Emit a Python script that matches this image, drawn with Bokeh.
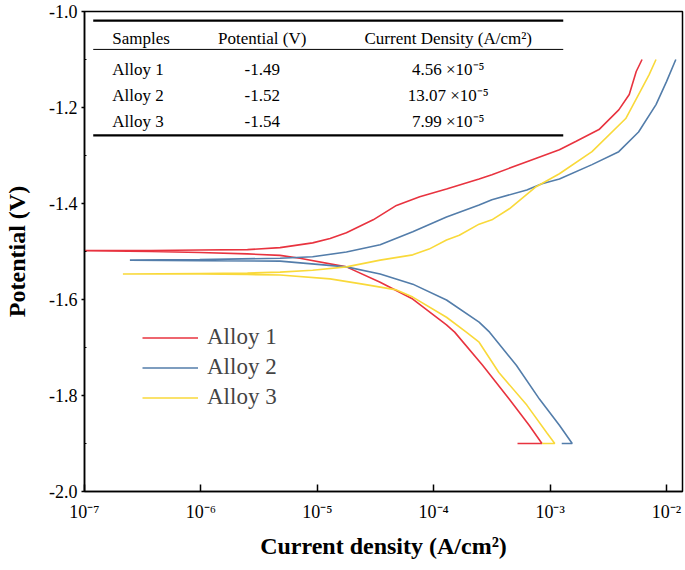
import numpy as np
from bokeh.plotting import figure
from bokeh.models import (FixedTicker, PrintfTickFormatter, CustomJSTickFormatter,
                          Legend, LegendItem, Label, ColumnDataSource)
from bokeh.embed import file_html
from bokeh.resources import INLINE

# ---------------- data (log10 current density, potential V) ----------------
alloy1_cath_log = [-3.28, -3.07, -3.18, -3.35, -3.58, -3.82, -3.89, -4.18, -4.46, -4.75,
                   -5.15, -5.32, -5.60, -6.01, -6.43, -7.05]
alloy1_cath_v = [-1.900, -1.900, -1.862, -1.808, -1.737, -1.668, -1.653, -1.599, -1.564, -1.532,
                 -1.514, -1.508, -1.505, -1.502, -1.500, -1.498]
alloy1_anod_log = [-6.43, -6.01, -5.60, -5.32, -5.04, -4.89, -4.75, -4.52, -4.32, -4.12,
                   -3.89, -3.61, -3.50, -3.20, -2.92, -2.78, -2.58, -2.41, -2.32, -2.26, -2.21]
alloy1_anod_v = [-1.498, -1.497, -1.496, -1.492, -1.482, -1.473, -1.461, -1.434, -1.404, -1.386,
                 -1.370, -1.349, -1.340, -1.313, -1.288, -1.271, -1.246, -1.205, -1.173, -1.125, -1.100]

alloy2_cath_log = [-2.90, -2.81, -2.92, -3.09, -3.29, -3.52, -3.61, -3.89, -4.18, -4.46,
                   -4.75, -5.32, -6.01, -6.61]
alloy2_cath_v = [-1.900, -1.900, -1.862, -1.808, -1.737, -1.668, -1.647, -1.601, -1.568, -1.547,
                 -1.532, -1.520, -1.519, -1.518]
alloy2_anod_log = [-6.01, -5.32, -5.04, -4.75, -4.46, -4.18, -3.89, -3.61, -3.50, -3.20,
                   -3.07, -2.92, -2.64, -2.41, -2.24, -2.09, -2.00, -1.92]
alloy2_anod_v = [-1.517, -1.514, -1.511, -1.501, -1.486, -1.459, -1.428, -1.403, -1.392, -1.372,
                 -1.359, -1.349, -1.319, -1.292, -1.251, -1.194, -1.146, -1.100]

alloy3_cath_log = [-3.07, -2.96, -3.03, -3.20, -3.44, -3.61, -3.72, -3.89, -4.18, -4.32,
                   -4.61, -4.89, -5.32, -5.60, -6.01, -6.67]
alloy3_cath_v = [-1.900, -1.900, -1.877, -1.820, -1.752, -1.689, -1.668, -1.637, -1.595, -1.580,
                 -1.568, -1.557, -1.549, -1.548, -1.547, -1.547]
alloy3_anod_log = [-6.01, -5.60, -5.32, -5.04, -4.75, -4.46, -4.18, -4.04, -3.89, -3.78,
                   -3.61, -3.50, -3.35, -3.12, -2.92, -2.64, -2.35, -2.24, -2.15, -2.09]
alloy3_anod_v = [-1.546, -1.545, -1.543, -1.539, -1.532, -1.518, -1.507, -1.495, -1.476, -1.466,
                 -1.443, -1.434, -1.411, -1.365, -1.338, -1.292, -1.223, -1.173, -1.132, -1.100]

series_names = ["Alloy 1", "Alloy 2", "Alloy 3"]
series_colors = ["#E8333F", "#537DAA", "#F9D93A"]

# table contents
table_header = ["Samples", "Potential (V)", "Current Density (A/cm²)"]
table_samples = ["Alloy 1", "Alloy 2", "Alloy 3"]
table_potential = ["-1.49", "-1.52", "-1.54"]
table_current = ["4.56 ×10⁻⁵", "13.07 ×10⁻⁵", "7.99 ×10⁻⁵"]

# axes
x_decades = [-7, -6, -5, -4, -3, -2]
y_ticks = [-2.0, -1.8, -1.6, -1.4, -1.2, -1.0]
y_minor = [-1.9, -1.7, -1.5, -1.3, -1.1]

FONT = "Liberation Serif"

p = figure(width=685, height=570, x_axis_type="log",
           x_range=(1e-7, 10 ** -1.8625), y_range=(-2.0, -1.0),
           output_backend="svg", toolbar_location=None,
           min_border_left=84, min_border_right=3, min_border_top=11, min_border_bottom=79)
p.xgrid.visible = False
p.ygrid.visible = False
p.outline_line_color = "black"
p.outline_line_width = 1.5
p.background_fill_color = "white"

renderers = []
curves = [
    (alloy1_cath_log, alloy1_cath_v, alloy1_anod_log, alloy1_anod_v),
    (alloy2_cath_log, alloy2_cath_v, alloy2_anod_log, alloy2_anod_v),
    (alloy3_cath_log, alloy3_cath_v, alloy3_anod_log, alloy3_anod_v),
]
for (cl, cv, al, av), col in zip(curves, series_colors):
    lx = np.array(cl + al)
    vv = np.array(cv + av)
    r = p.line(10 ** lx, vv, line_color=col, line_width=1.6)
    renderers.append(r)

legend = Legend(items=[LegendItem(label=n, renderers=[r]) for n, r in zip(series_names, renderers)],
                location=(58, 81), padding=0, margin=0, border_line_color=None,
                background_fill_alpha=0, label_text_font=FONT, label_text_font_size="23px",
                glyph_width=56, glyph_height=25, label_height=25, spacing=4, label_standoff=9)
p.add_layout(legend)

# ---------------- axes ----------------
p.xaxis.ticker = FixedTicker(ticks=[10.0 ** e for e in x_decades])
p.xaxis.formatter = CustomJSTickFormatter(code="""
const sup = {"-":"\u207b","0":"\u2070","1":"\u00b9","2":"\u00b2","3":"\u00b3","4":"\u2074",
             "5":"\u2075","6":"\u2076","7":"\u2077","8":"\u2078","9":"\u2079"};
const e = Math.round(Math.log10(tick));
return "10" + String(e).split("").map(c => sup[c]).join("");
""")
p.yaxis.ticker = FixedTicker(ticks=y_ticks, minor_ticks=y_minor)
p.yaxis.formatter = PrintfTickFormatter(format="%.1f")

for ax in (p.xaxis[0], p.yaxis[0]):
    ax.axis_line_width = 1.5
    ax.axis_line_color = "black"
    ax.major_tick_line_color = "black"
    ax.major_tick_line_width = 1.5
    ax.minor_tick_line_color = "black"
    ax.major_label_text_font = FONT
    ax.major_label_text_font_size = "18px"
    ax.major_label_text_color = "black"
    ax.axis_label_text_font = FONT
    ax.axis_label_text_font_style = "bold"
    ax.axis_label_text_font_size = "24px"
    ax.axis_label_text_color = "black"

p.xaxis.major_tick_in = 7
p.xaxis.major_tick_out = 0
p.xaxis.minor_tick_line_color = None
p.xaxis.major_label_standoff = 10
p.xaxis.axis_label = "Current density (A/cm²)"
p.xaxis.axis_label_standoff = 8

p.yaxis.major_tick_in = 0
p.yaxis.major_tick_out = 3
p.yaxis.minor_tick_in = 2
p.yaxis.minor_tick_out = 0
p.yaxis.major_label_standoff = 4
p.yaxis.axis_label = "Potential (V)"
p.yaxis.axis_label_standoff = 16

# ---------------- inset table ----------------
tx0, tx1 = 10 ** -6.925, 10 ** -2.887
rule_src = ColumnDataSource(dict(x0=[tx0, tx0, tx0], x1=[tx1, tx1, tx1],
                                 y=[-1.019, -1.079, -1.258], w=[2.2, 1.0, 2.2]))
p.segment(x0="x0", y0="y", x1="x1", y1="y", line_width="w", line_color="black", source=rule_src)

col_x = [10 ** -6.762, 10 ** -5.473, 10 ** -3.875]
col_align = ["left", "center", "center"]
row_y = [-1.056, -1.121, -1.175, -1.229]
rows = [table_header] + [[s, v, c] for s, v, c in zip(table_samples, table_potential, table_current)]
for ry, row in zip(row_y, rows):
    for cx, al, txt in zip(col_x, col_align, row):
        p.add_layout(Label(x=cx, y=ry, text=txt, text_font=FONT, text_font_size="17px",
                           text_align=al, text_baseline="middle", text_color="black"))

open("out.html", "w").write(file_html(p, INLINE))
